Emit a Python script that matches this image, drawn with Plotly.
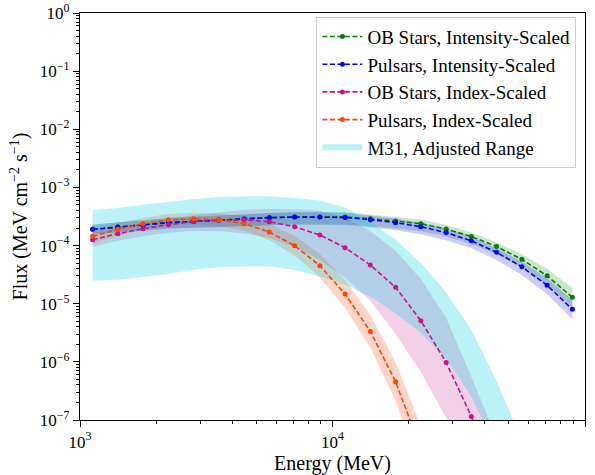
import plotly.graph_objects as go

# ---------------- data ----------------
energy = [1122, 1413, 1778, 2239, 2818, 3548, 4467, 5623, 7079, 8913,
          11220, 14125, 17783, 22387, 28184, 35481, 44668, 56234, 70795, 89125]

ob_int = [1.90e-4, 2.09e-4, 2.26e-4, 2.48e-4, 2.60e-4, 2.75e-4, 2.86e-4, 3.02e-4, 3.10e-4, 3.10e-4,
          3.10e-4, 2.90e-4, 2.65e-4, 2.38e-4, 1.93e-4, 1.43e-4, 9.64e-5, 5.79e-5, 3.02e-5, 1.29e-5]
psr_int = [1.90e-4, 2.09e-4, 2.26e-4, 2.48e-4, 2.60e-4, 2.75e-4, 2.86e-4, 3.02e-4, 3.10e-4, 3.10e-4,
           3.05e-4, 2.79e-4, 2.48e-4, 2.11e-4, 1.67e-4, 1.21e-4, 7.64e-5, 4.31e-5, 2.07e-5, 8.0e-6]
ob_idx = [1.26e-4, 1.60e-4, 1.95e-4, 2.29e-4, 2.58e-4, 2.72e-4, 2.78e-4, 2.57e-4, 2.11e-4, 1.52e-4,
          9.20e-5, 4.63e-5, 1.91e-5, 5.09e-6, 9.77e-7, 1.15e-7, 1.0e-8]
psr_idx = [1.44e-4, 1.91e-4, 2.37e-4, 2.77e-4, 2.90e-4, 2.79e-4, 2.38e-4, 1.71e-4, 9.95e-5, 4.51e-5,
           1.47e-5, 3.33e-6, 4.54e-7, 3.16e-8]

# band half-widths (dex) above / below each curve
int_hi_dex = [0.08, 0.08, 0.08, 0.08, 0.08, 0.08, 0.08, 0.08, 0.08, 0.08,
              0.08, 0.07, 0.07, 0.07, 0.07, 0.07, 0.07, 0.09, 0.12, 0.16]
int_lo_dex = [0.08, 0.09, 0.10, 0.10, 0.11, 0.12, 0.12, 0.13, 0.13, 0.13,
              0.13, 0.13, 0.13, 0.13, 0.13, 0.13, 0.13, 0.14, 0.155, 0.17]
ob_idx_hi_dex = [0.12, 0.11, 0.10, 0.10, 0.11, 0.13, 0.17, 0.22, 0.30, 0.42,
                 0.52, 0.58, 0.63, 0.72, 0.77, 0.68, 0.70]
ob_idx_lo_dex = [0.12, 0.12, 0.13, 0.14, 0.16, 0.19, 0.23, 0.28, 0.35, 0.43,
                 0.52, 0.62, 0.80, 0.88, 0.95, 1.00, 1.10]
psr_idx_dex = [0.12, 0.11, 0.10, 0.10, 0.10, 0.11, 0.12, 0.14, 0.17, 0.20,
               0.24, 0.28, 0.33, 0.40]

m31_upper = [4.04e-4, 4.44e-4, 5.06e-4, 5.62e-4, 6.34e-4, 6.87e-4, 7.03e-4, 7.03e-4, 6.61e-4, 5.93e-4,
             4.49e-4, 2.58e-4, 1.26e-4, 5.01e-5, 1.58e-5, 3.55e-6, 4.68e-7, 4.47e-8]
m31_lower = [2.49e-5, 2.59e-5, 2.88e-5, 3.24e-5, 3.85e-5, 4.22e-5, 4.39e-5, 4.39e-5, 3.80e-5, 2.92e-5,
             2.12e-5, 1.32e-5, 6.76e-6, 3.16e-6, 1.12e-6, 2.51e-7, 3.16e-8, 3.16e-9]

names = ["OB Stars, Intensity-Scaled", "Pulsars, Intensity-Scaled",
         "OB Stars, Index-Scaled", "Pulsars, Index-Scaled", "M31, Adjusted Range"]

x_tickvals = [1e3, 1e4, 1e5]
x_ticktext = ["10<sup>3</sup>", "10<sup>4</sup>", "10<sup>5</sup>"]
y_tickvals = [1e-7, 1e-6, 1e-5, 1e-4, 1e-3, 1e-2, 1e-1, 1e0]
y_ticktext = ["10<sup>\u22127</sup>", "10<sup>\u22126</sup>", "10<sup>\u22125</sup>", "10<sup>\u22124</sup>",
              "10<sup>\u22123</sup>", "10<sup>\u22122</sup>", "10<sup>\u22121</sup>", "10<sup>0</sup>"]

# minor tick positions (2..9 within each decade)
x_minor = [m * d for d in x_tickvals[:-1] for m in range(2, 10)]
y_minor = [m * d for d in y_tickvals[:-1] for m in range(2, 10)]

FONT = "Liberation Serif"

fig = go.Figure()


def band(x, lo, hi, color, name=None, show=False, rank=None):
    fig.add_trace(go.Scatter(
        x=list(x) + list(x)[::-1], y=list(hi) + list(lo)[::-1],
        fill="toself", fillcolor=color, mode="none", line=dict(width=0),
        hoverinfo="skip", showlegend=show, name=name,
        legendrank=rank if rank else 1000))


def scaled(vals, dex, sign):
    return [v * 10 ** (sign * d) for v, d in zip(vals, dex)]


# bands
band(energy[:len(ob_int)], scaled(ob_int, int_lo_dex, -1), scaled(ob_int, int_hi_dex, 1), "rgba(0,128,0,0.2)")
band(energy[:len(psr_int)], scaled(psr_int, int_lo_dex, -1), scaled(psr_int, int_hi_dex, 1), "rgba(0,0,255,0.2)")
band(energy[:len(ob_idx)], scaled(ob_idx, ob_idx_lo_dex, -1), scaled(ob_idx, ob_idx_hi_dex, 1), "rgba(199,21,133,0.2)")
band(energy[:len(psr_idx)], scaled(psr_idx, psr_idx_dex, -1), scaled(psr_idx, psr_idx_dex, 1), "rgba(255,69,0,0.22)")
band(energy[:len(m31_upper)], m31_lower, m31_upper, "rgba(0,206,230,0.27)", name=names[4], show=True, rank=5)

# lines
series = [(ob_int, "green"), (psr_int, "blue"), (ob_idx, "#c71585"), (psr_idx, "#ff4500")]
for i, (vals, col) in enumerate(series):
    fig.add_trace(go.Scatter(
        x=energy[:len(vals)], y=vals, mode="lines+markers", name=names[i],
        line=dict(color=col, width=1.6, dash="5px,2.5px"),
        marker=dict(color=col, size=5), legendrank=i + 1))

# empty trace so the overlaid minor-tick axes are drawn
fig.add_trace(go.Scatter(x=[None], y=[None], xaxis="x2", yaxis="y2", mode="markers",
                         showlegend=False, hoverinfo="skip"))

axis_common = dict(
    type="log", showline=True, linecolor="black", linewidth=1.2, mirror=True,
    ticks="outside", ticklen=6, tickwidth=1, tickcolor="black", automargin=False,
    showgrid=False, zeroline=False,
    tickfont=dict(family=FONT, size=17, color="black"),
)
minor_axis = dict(type="log", showline=False, showgrid=False, zeroline=False, automargin=False,
                  ticks="outside", ticklen=3, tickwidth=1, tickcolor="black", showticklabels=False)

fig.update_layout(
    width=595, height=475,
    margin=dict(l=80, r=10, t=13, b=55),
    paper_bgcolor="white", plot_bgcolor="white",
    font=dict(family=FONT, color="black"),
    xaxis=dict(range=[3, 5], tickvals=x_tickvals, ticktext=x_ticktext,
               title=dict(text="Energy (MeV)", font=dict(family=FONT, size=20), standoff=4),
               **axis_common),
    yaxis=dict(range=[-7, 0], tickvals=y_tickvals, ticktext=y_ticktext,
               title=dict(text="Flux (MeV cm<sup>\u22122</sup> s<sup>\u22121</sup>)",
                          font=dict(family=FONT, size=20), standoff=6),
               **axis_common),
    xaxis2=dict(range=[3, 5], tickvals=x_minor, overlaying="x", side="bottom", anchor="y2",
                **minor_axis),
    yaxis2=dict(range=[-7, 0], tickvals=y_minor, overlaying="y", side="left", anchor="x2",
                **minor_axis),
    legend=dict(x=0.983, y=0.991, xanchor="right", yanchor="top",
                bgcolor="rgba(255,255,255,0.85)", bordercolor="#cccccc", borderwidth=1,
                font=dict(family=FONT, size=19, color="black"), itemwidth=40,
                tracegroupgap=0),
)

fig.write_html("out.html", config={"displayModeBar": False},
               post_script="document.body.style.margin='0px';document.body.style.padding='0px';")
